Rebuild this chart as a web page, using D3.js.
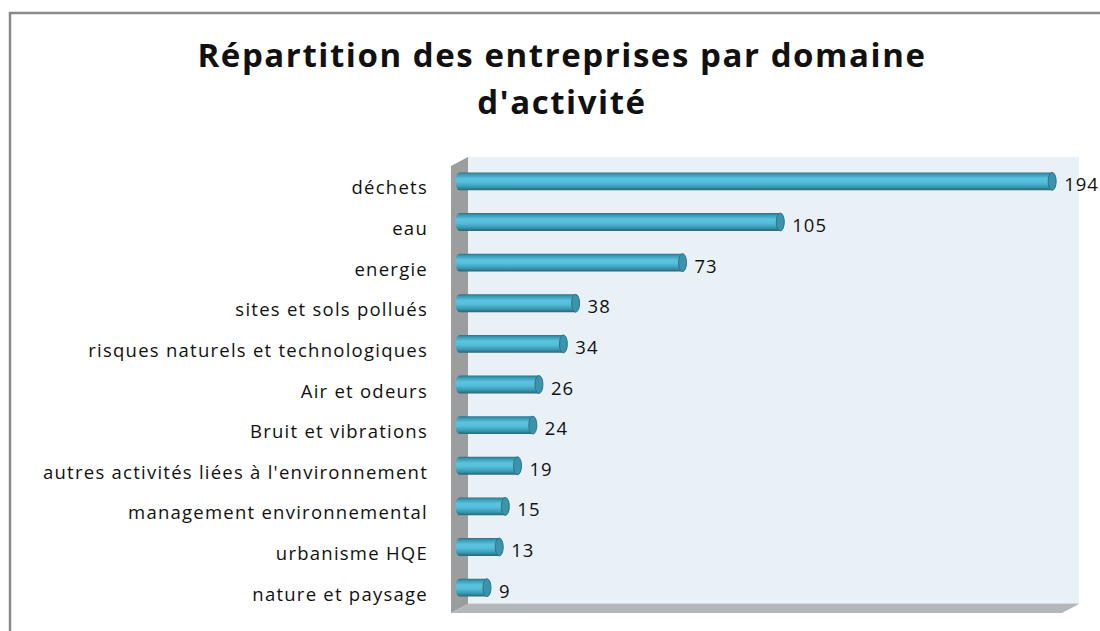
<!DOCTYPE html>
<html>
<head>
<meta charset="utf-8">
<script src="https://cdn.jsdelivr.net/npm/d3@7"></script>
<style>
  body { margin: 0; background: #fff; }
  svg { display: block; }
  text { font-variant-ligatures: none; }
</style>
</head>
<body>
<div id="chart"></div>
<script>
const width = 1100, height = 631;

// data
const categories = [
  'déchets', 'eau', 'energie', 'sites et sols pollués ',
  'risques naturels et technologiques', 'Air et odeurs', 'Bruit et vibrations',
  "autres activités liées à l'environnement", 'management environnemental',
  'urbanisme HQE', 'nature et paysage'
];
const values = [194, 105, 73, 38, 34, 26, 24, 19, 15, 13, 9];
const titleLines = ['Répartition des entreprises par domaine', "d'activité"];

const font = '"Open Sans", "DejaVu Sans", sans-serif';
const depth = {dx: 17, dy: -9};
const wall = {left: 468, right: 1079, top: 157, bottom: 604};

const x = d3.scaleLinear()
  .domain([0, 200])
  .range([wall.left - depth.dx / 2, wall.right - depth.dx / 2]);

const y = d3.scaleBand()
  .domain(categories)
  .range([wall.top + 4, wall.bottom + 4])
  .paddingInner(0.56)
  .paddingOuter(0.28);

const svg = d3.select('#chart').append('svg')
  .attr('width', width).attr('height', height);

const defs = svg.append('defs');
const grad = defs.append('linearGradient')
  .attr('id', 'cyl').attr('x1', 0).attr('y1', 0).attr('x2', 0).attr('y2', 1);
[[0, '#2c7286'], [0.12, '#3a9ab4'], [0.35, '#5ac3df'], [0.55, '#55bfdb'],
 [0.8, '#3a9bb5'], [1, '#286678']].forEach(([o, c]) => {
  grad.append('stop').attr('offset', o).attr('stop-color', c);
});

// outer frame
svg.append('rect')
  .attr('x', 10).attr('y', 13)
  .attr('width', width).attr('height', height)
  .attr('fill', 'none').attr('stroke', '#8a8a8a').attr('stroke-width', 2.5);

// title, spaced to the width it takes in the original
const title = svg.append('g').selectAll('text')
  .data(titleLines)
  .join('text')
  .attr('x', 562)
  .attr('y', (d, i) => 67 + i * 47)
  .attr('text-anchor', 'middle')
  .attr('font-family', font)
  .attr('font-weight', 'bold')
  .attr('font-size', 33)
  .attr('fill', '#111')
  .text(d => d);
const tw = title.node().getComputedTextLength();
title.attr('letter-spacing', Math.max(0, (729 - tw) / titleLines[0].length));

// 3D box: back wall, side wall, floor
svg.append('rect')
  .attr('x', wall.left).attr('y', wall.top)
  .attr('width', wall.right - wall.left).attr('height', wall.bottom - wall.top)
  .attr('fill', '#e9f1f7');

svg.append('polygon')
  .attr('points', [
    [wall.left - depth.dx, wall.top - depth.dy],
    [wall.left, wall.top],
    [wall.left, wall.bottom],
    [wall.left - depth.dx, wall.bottom - depth.dy]
  ].join(' '))
  .attr('fill', '#9b9d9f');

svg.append('polygon')
  .attr('points', [
    [wall.left - depth.dx, wall.bottom - depth.dy],
    [wall.left, wall.bottom],
    [wall.right, wall.bottom],
    [wall.right - depth.dx, wall.bottom - depth.dy]
  ].join(' '))
  .attr('fill', '#b4b7ba');

svg.append('line')
  .attr('x1', wall.left).attr('x2', wall.right)
  .attr('y1', wall.bottom - 0.5).attr('y2', wall.bottom - 0.5)
  .attr('stroke', '#d4dde3').attr('stroke-width', 1);

// bars as cylinders
const bar = svg.append('g').selectAll('g')
  .data(categories.map((c, i) => ({cat: c, val: values[i]})))
  .join('g');

const bh = y.bandwidth();
const rx = 4;

bar.append('path')
  .attr('d', d => {
    const x0 = x(0), x1 = x(d.val), y0 = y(d.cat), r = bh / 2;
    return `M${x0},${y0} L${x1},${y0} L${x1},${y0 + bh} L${x0},${y0 + bh}` +
      ` A${rx},${r} 0 0 1 ${x0},${y0} Z`;
  })
  .attr('fill', 'url(#cyl)');

bar.append('ellipse')
  .attr('cx', d => x(d.val))
  .attr('cy', d => y(d.cat) + bh / 2)
  .attr('rx', rx)
  .attr('ry', bh / 2)
  .attr('fill', '#3c93ab')
  .attr('stroke', '#2c7588')
  .attr('stroke-width', 1);

// value labels
bar.append('text')
  .attr('x', d => x(d.val) + rx + 8)
  .attr('y', d => y(d.cat) + bh / 2 + 10)
  .attr('font-family', font)
  .attr('font-size', 18.5)
  .attr('letter-spacing', 1)
  .attr('fill', '#111')
  .text(d => d.val);

// category labels, spaced out like the original's loose rendering
const labels = svg.append('g').selectAll('text')
  .data(categories)
  .join('text')
  .attr('x', 428)
  .attr('y', d => y(d) + bh / 2 + 13)
  .attr('text-anchor', 'end')
  .attr('font-family', font)
  .attr('font-size', 18.5)
  .attr('fill', '#111')
  .text(d => d);
const longest = labels.filter((d, i) => i === 7).node();
const lw = longest.getComputedTextLength();
const n = categories[7].length;
labels.attr('letter-spacing', Math.max(0, (385 - lw) / n));
</script>
</body>
</html>
